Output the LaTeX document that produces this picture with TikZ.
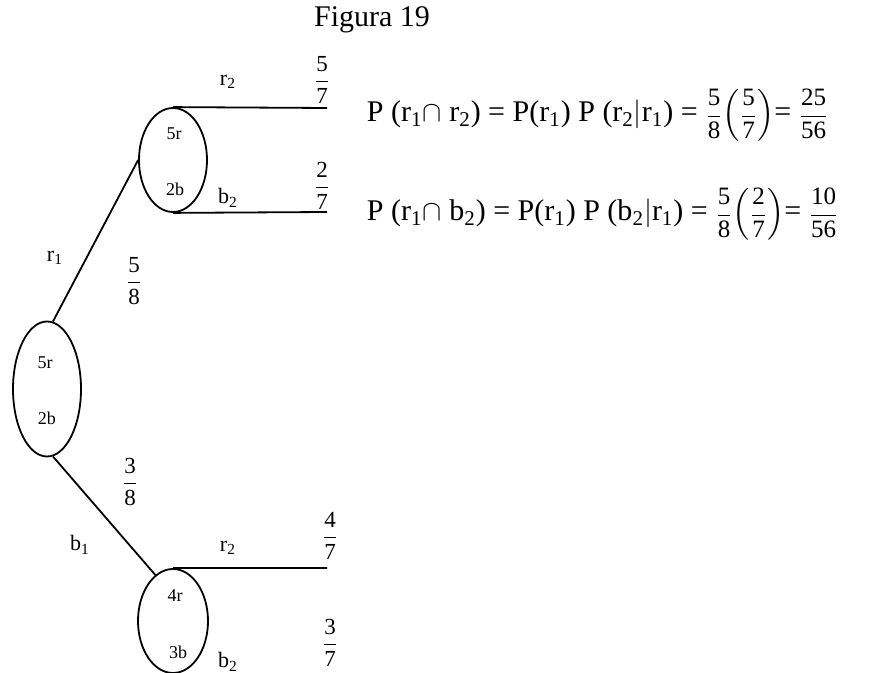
\documentclass[tikz,border=0pt]{standalone}
\usepackage{amsmath}
\usepackage{fontspec}
\setmainfont{Liberation Serif}
\usetikzlibrary{shapes.geometric}

\newcommand{\ffrac}[2]{\mbox{\fontsize{12.5}{14}\selectfont$\dfrac{\mbox{#1}}{\mbox{#2}}$}}

\begin{document}
\begin{tikzpicture}[x=0.5pt, y=-0.5pt, line width=0.9pt,
  urn/.style={ellipse, draw, inner sep=0pt, minimum width=34pt, minimum height=52pt},
  cnt/.style={font=\fontsize{9}{10}\selectfont, inner sep=0pt},
  br/.style={font=\fontsize{11}{13}\selectfont, inner sep=0pt},
  pr/.style={font=\fontsize{11.5}{13}\selectfont, inner sep=0pt},
  eq/.style={font=\fontsize{15}{18}\selectfont, anchor=base west, inner sep=0pt}]
\useasboundingbox (0,0) rectangle (889,673);
\node[font=\fontsize{15}{18}\selectfont] (fig) at (372,20) {Figura 19};
% urns and their contents
\node[urn, minimum height=67.5pt] (u0) at (47,389) {};
\node[urn] (u1) at (173,160) {};
\node[urn, minimum width=35pt] (u2) at (173,621) {};
\foreach \n/\x/\y/\t in {c01/45/363/5r, c02/47/418/2b, c11/174/134/5r, c12/175/189/2b, c21/175/596/4r, c22/178/652/3b}
  \node[cnt] (\n) at (\x,\y) {\t};
% branches
\coordinate (e11) at (327,108);
\coordinate (e12) at (327,212);
\coordinate (e21) at (327,568);
\draw (u0.85) -- (u1.west);
\draw (u0.275) -- (u2.111);
\draw (u1.north) -- (e11);
\draw (u1.south) -- (e12);
\draw (u2.north) -- (e21);
% branch names
\foreach \n/\x/\y/\t in {l0r/55/258/{r\textsubscript{1}}, l0b/80/545/{b\textsubscript{1}}, l1r/228/82/{r\textsubscript{2}}, l1b/228/198/{b\textsubscript{2}}, l2r/228/548/{r\textsubscript{2}}, l2b/228/662/{b\textsubscript{2}}}
  \node[br] (\n) at (\x,\y) {\t};
% probabilities
\foreach \n/\x/\y/\a/\b in {p0r/134/281/5/8, p0b/130/482/3/8, p1r/322/80/5/7, p1b/322/186/2/7, p2r/330/536/4/7, p2b/330/643/3/7}
  \node[pr] (\n) at (\x,\y) {$\dfrac{\mbox{\a}}{\mbox{\b}}$};
% products
\node[eq] (q1) at (366,122) {P (r\textsubscript{1}$\cap$ r\textsubscript{2}) = P(r\textsubscript{1}) P (r\textsubscript{2}$|$r\textsubscript{1}) = \ffrac{5}{8}$\left(\ffrac{5}{7}\right)$= \ffrac{25}{56}};
\node[eq] (q2) at (366,221) {P (r\textsubscript{1}$\cap$ b\textsubscript{2}) = P(r\textsubscript{1}) P (b\textsubscript{2}$|$r\textsubscript{1}) = \ffrac{5}{8}$\left(\ffrac{2}{7}\right)$= \ffrac{10}{56}};
\end{tikzpicture}
\end{document}
